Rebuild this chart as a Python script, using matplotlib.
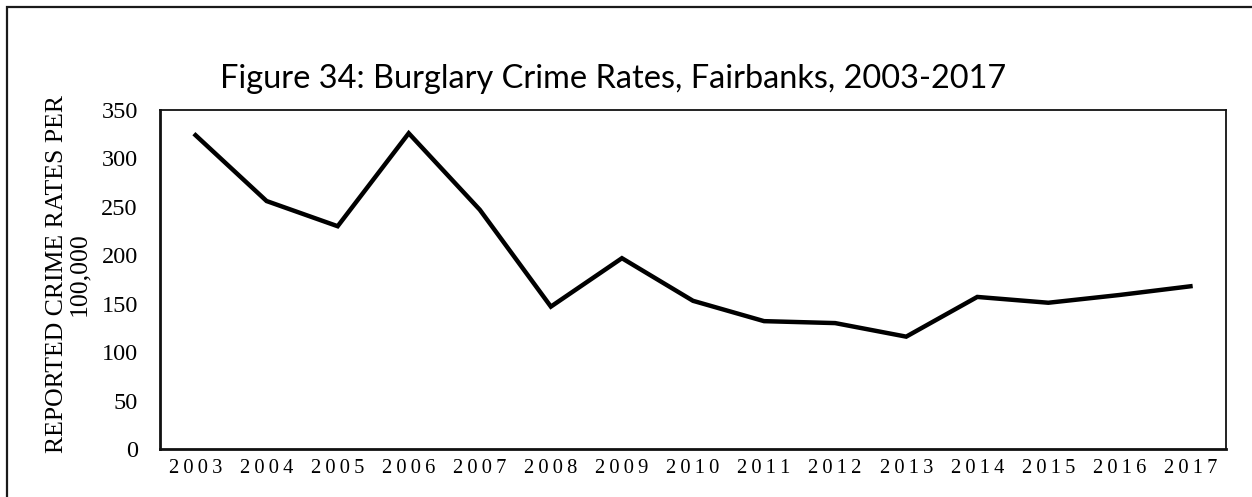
import matplotlib
matplotlib.use('Agg')
import matplotlib.pyplot as plt
from matplotlib.patches import Rectangle

years = ['2003', '2004', '2005', '2006', '2007', '2008', '2009', '2010',
         '2011', '2012', '2013', '2014', '2015', '2016', '2017']
rates = [324, 256, 230, 326, 247, 147, 197, 153, 132, 130, 116, 157, 151, 159, 168]
yticks = [0, 50, 100, 150, 200, 250, 300, 350]

serif = ['Liberation Serif', 'DejaVu Serif']

fig = plt.figure(figsize=(12.52, 4.97), dpi=100)

# outer frame (only top/left edges visible in the original crop)
fig.patches.append(Rectangle((7 / 1252, -0.1), 1.2, (497 - 7) / 497 + 0.1,
                             transform=fig.transFigure, fill=False,
                             edgecolor='#1a1a1a', linewidth=1.6))

ax = fig.add_axes([160 / 1252, 48 / 497, 1066 / 1252, 339 / 497])
x = list(range(len(years)))
ax.plot(x, rates, color='black', linewidth=3.2, solid_joinstyle='miter')

ax.set_xlim(-0.5, len(years) - 0.5)
ax.set_ylim(0, 350)
ax.set_yticks(yticks)
ax.set_xticks(x)
ax.set_xticklabels(['\u2009'.join(y) for y in years], family=serif, fontsize=14.8)
ax.set_yticklabels([str(v) for v in yticks], family=serif, fontsize=17.5)
ax.tick_params(axis='both', length=0)
ax.tick_params(axis='y', pad=16)
ax.tick_params(axis='x', pad=7)

for side in ['left', 'bottom']:
    ax.spines[side].set_linewidth(2.0)
for side in ['top', 'right']:
    ax.spines[side].set_linewidth(1.3)
for s in ax.spines.values():
    s.set_color('#111111')

fig.text(68 / 1252, 1 - 274 / 497, 'REPORTED CRIME RATES PER\n100,000',
         rotation=90, ha='center', va='center', family=serif, fontsize=18.5,
         linespacing=1.0)

fig.text(613 / 1252, 1 - 79 / 497, 'Figure 34: Burglary Crime Rates, Fairbanks, 2003-2017',
         ha='center', va='center', family=['Lato', 'DejaVu Sans'], fontsize=23.4)

fig.savefig('out.png', dpi=100)
